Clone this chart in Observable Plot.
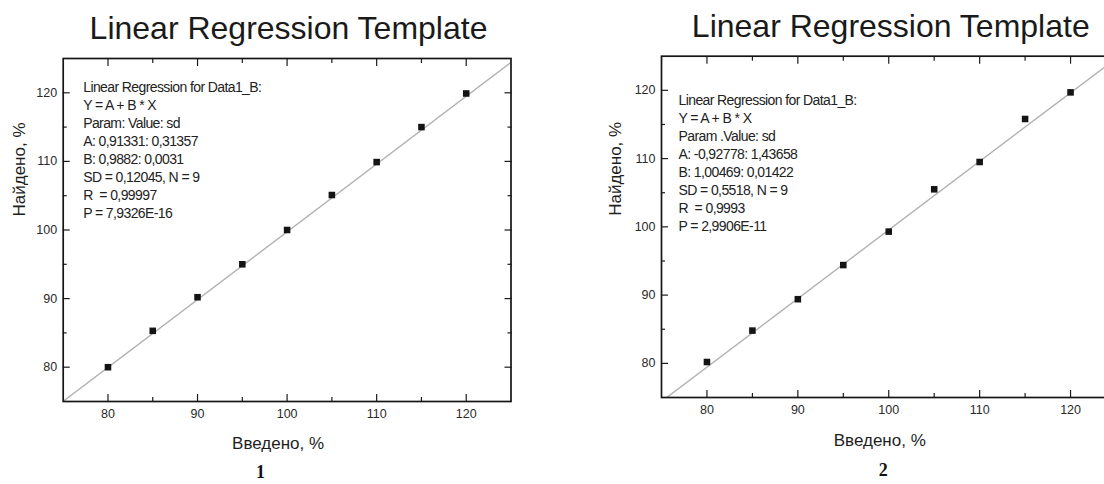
<!DOCTYPE html>
<html>
<head>
<meta charset="utf-8">
<script src="https://cdn.jsdelivr.net/npm/d3@7"></script>
<script src="https://cdn.jsdelivr.net/npm/@observablehq/plot@0.6"></script>
<style>
html, body { margin: 0; padding: 0; background: #fff; overflow: hidden; width: 1104px; height: 484px; }
#wrap { position: relative; width: 1104px; height: 484px; overflow: hidden; background: #fff; }
.panel { position: absolute; top: 0; }
</style>
</head>
<body>
<div id="wrap"></div>
<script>
// ---- data ----
const introduced = [80, 85, 90, 95, 100, 105, 110, 115, 120];
const found1 = [80.0, 85.3, 90.2, 95.0, 100.0, 105.1, 109.9, 115.0, 119.9];
const found2 = [80.2, 84.8, 89.4, 94.4, 99.3, 105.5, 109.5, 115.8, 119.7];
const coefA = [0.91331, -0.92778];
const coefB = [0.9882, 1.00469];
const axisDomain = [75, 125];
const majorTicks = [80, 90, 100, 110, 120];
const minorTicks = [85, 95, 105, 115];
const titleText = "Linear Regression Template";
const xLabel = "Введено, %";
const yLabel = "Найдено, %";
const panelNumbers = ["1", "2"];
const annot1 = [
  "Linear Regression for Data1_B:",
  "Y = A + B * X",
  "Param: Value: sd",
  "A: 0,91331: 0,31357",
  "B: 0,9882: 0,0031",
  "SD = 0,12045, N = 9",
  "R\u00a0 = 0,99997",
  "P = 7,9326E-16"
];
const annot2 = [
  "Linear Regression for Data1_B:",
  "Y = A + B * X",
  "Param .Value: sd",
  "A: -0,92778: 1,43658",
  "B: 1,00469: 0,01422",
  "SD = 0,5518, N = 9",
  "R\u00a0 = 0,9993",
  "P = 2,9906E-11"
];

function panel(cfg) {
  const pts = introduced.map((x, i) => ({x, y: cfg.found[i]}));
  const ends = axisDomain.map(x => ({x, y: cfg.A + cfg.B * x}));
  const ink = "#1c1c1c";
  const svg = Plot.plot({
    width: cfg.width,
    height: 484,
    marginLeft: cfg.ml,
    marginRight: cfg.mr,
    marginTop: cfg.mt,
    marginBottom: cfg.mb,
    style: {fontFamily: "'Liberation Sans', Arial, sans-serif", background: "transparent", overflow: "visible"},
    x: {domain: axisDomain},
    y: {domain: axisDomain},
    marks: [
      Plot.line(ends, {x: "x", y: "y", stroke: "#b2b2b2", strokeWidth: 1.4, clip: true}),
      Plot.dot(pts, {x: "x", y: "y", symbol: "square", r: 3.7, fill: "#141414", stroke: null}),
      // inward ticks on all four sides
      Plot.axisX({anchor: "bottom", ticks: majorTicks, tickSize: -7, text: null, label: null, stroke: ink, strokeWidth: 1.2}),
      Plot.axisX({anchor: "bottom", ticks: minorTicks, tickSize: -4, text: null, label: null, stroke: ink, strokeWidth: 1.2}),
      Plot.axisX({anchor: "top", ticks: majorTicks, tickSize: -7, text: null, label: null, stroke: ink, strokeWidth: 1.2}),
      Plot.axisX({anchor: "top", ticks: minorTicks, tickSize: -4, text: null, label: null, stroke: ink, strokeWidth: 1.2}),
      Plot.axisY({anchor: "left", ticks: majorTicks, tickSize: -7, text: null, label: null, stroke: ink, strokeWidth: 1.2}),
      Plot.axisY({anchor: "left", ticks: minorTicks, tickSize: -4, text: null, label: null, stroke: ink, strokeWidth: 1.2}),
      Plot.axisY({anchor: "right", ticks: majorTicks, tickSize: -7, text: null, label: null, stroke: ink, strokeWidth: 1.2}),
      Plot.axisY({anchor: "right", ticks: minorTicks, tickSize: -4, text: null, label: null, stroke: ink, strokeWidth: 1.2}),
      // tick labels
      Plot.axisX({anchor: "bottom", ticks: majorTicks, tickSize: 0, tickPadding: 8, label: null, fontSize: 12.5, fill: "#2a2a2a"}),
      Plot.axisY({anchor: "left", ticks: majorTicks, tickSize: 0, tickPadding: 6, label: null, fontSize: 12.5, fill: "#2a2a2a"}),
      Plot.frame({stroke: "#151515", strokeWidth: 1.7}),
      // title
      Plot.text([titleText], {text: d => d, frameAnchor: "top", dx: cfg.titleDx, dy: cfg.titleDy, lineAnchor: "middle", fontSize: 32, fill: "#1a1a1a"}),
      // axis labels
      Plot.text([xLabel], {text: d => d, frameAnchor: "bottom", dx: -9, dy: cfg.xlabDy, lineAnchor: "middle", fontSize: 17, fill: "#1e1e1e"}),
      Plot.text([yLabel], {text: d => d, frameAnchor: "left", dx: cfg.ylabDx, dy: cfg.ylabDy, rotate: -90, lineAnchor: "middle", fontSize: 17, fill: "#1e1e1e"}),
      // regression annotation
      Plot.text([cfg.annot.join("\n")], {text: d => d, frameAnchor: "top-left", dx: cfg.annDx, dy: cfg.annDy, textAnchor: "start", lineAnchor: "top", lineHeight: 18 / 14, fontSize: 14, fill: "#222"}),
      // figure number
      Plot.text([cfg.num], {text: d => d, frameAnchor: "bottom", dx: cfg.numDx, dy: cfg.numDy, lineAnchor: "middle", fontSize: 18, fontWeight: "bold", fontFamily: "'Liberation Serif', 'DejaVu Serif', serif", fill: "#111"})
    ]
  });
  // condense the annotation and tick-label lettering like the original
  svg.querySelectorAll("text").forEach(t => {
    if (t.textContent.startsWith("Linear Regression for")) t.style.letterSpacing = "-0.6px";
  });
  return svg;
}

const wrap = document.getElementById("wrap");

const p1 = panel({
  found: found1, A: coefA[0], B: coefB[0], annot: annot1, num: panelNumbers[0],
  width: 552, ml: 62.7, mr: 41.5, mt: 58, mb: 83,
  titleDx: 1.4, titleDy: -30, xlabDy: 42, ylabDx: -44, ylabDy: -13.5,
  annDx: 20, annDy: 21, numDx: -26.6, numDy: 71
});
p1.classList.add("panel");
p1.style.left = "0px";
wrap.appendChild(p1);

const p2 = panel({
  found: found2, A: coefA[1], B: coefB[1], annot: annot2, num: panelNumbers[1],
  width: 560, ml: 61, mr: 44.5, mt: 55.7, mb: 87,
  titleDx: 2, titleDy: -29.7, xlabDy: 43, ylabDx: -46, ylabDy: -11,
  annDx: 17, annDy: 36, numDx: -5.5, numDy: 73
});
p2.classList.add("panel");
p2.style.left = "600px";
wrap.appendChild(p2);
</script>
</body>
</html>
